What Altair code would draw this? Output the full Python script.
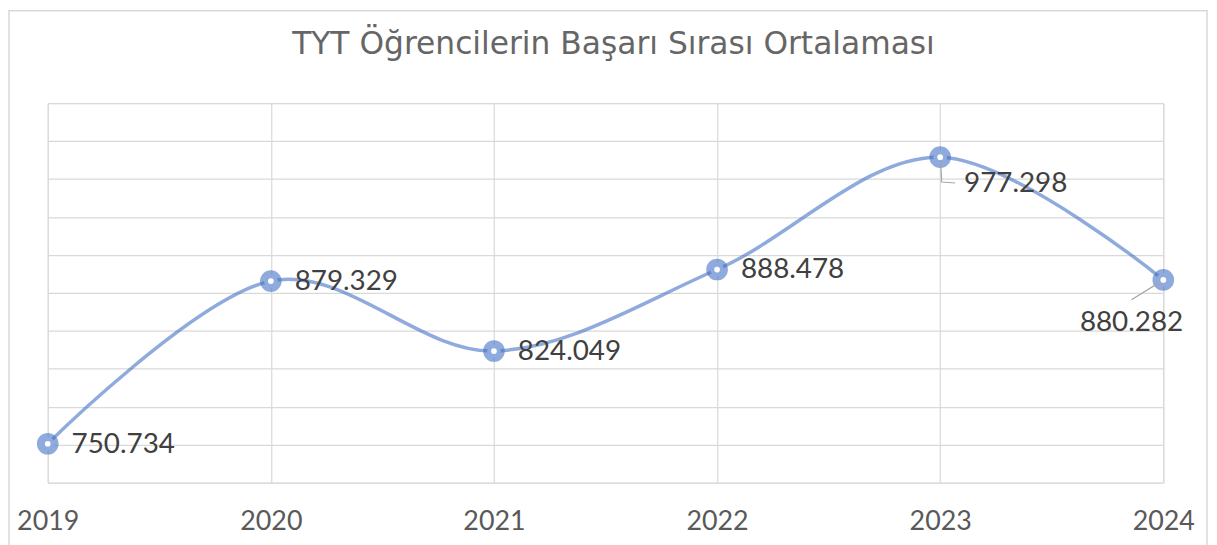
import altair as alt
import pandas as pd

years = [2019, 2020, 2021, 2022, 2023, 2024]
values = [750.734, 879.329, 824.049, 888.478, 977.298, 880.282]
labels = ["750.734", "879.329", "824.049", "888.478", "977.298", "880.282"]
y_ticks = [720, 750, 780, 810, 840, 870, 900, 930, 960, 990, 1020]
title_text = "TYT Öğrencilerin Başarı Sırası Ortalaması"

W, H = 1123, 382
PAD = {"left": 40, "top": 94, "right": 46, "bottom": 61}
FONT = "Lato"

df = pd.DataFrame({"year": years, "value": values, "label": labels})

# leader lines for the two labels placed away from their points (pixel offsets -> data units)
px_per_year = W / (years[-1] - years[0])
val_per_px = (y_ticks[-1] - y_ticks[0]) / H
leader_rows = []
def add_leader(yr, pts, gid):
    yi = years.index(yr)
    for k, (dx, dy) in enumerate(pts):
        leader_rows.append({"g": gid, "k": k, "yr": yr + dx / px_per_year,
                            "v": values[yi] - dy * val_per_px})
add_leader(2023, [(0.5, 4), (1.5, 25), (15, 26)], "a")
add_leader(2024, [(-3, 2), (-32, 20)], "b")
leader_df = pd.DataFrame(leader_rows)

xscale = alt.Scale(domain=[years[0], years[-1]], nice=False, zero=False)
yscale = alt.Scale(domain=[y_ticks[0], y_ticks[-1]], nice=False, zero=False)

x_enc = alt.X("year:Q", scale=xscale,
              axis=alt.Axis(title=None, values=years, tickCount=len(years), format="d",
                            labelAngle=0, grid=True,
                            gridColor="#D9D9D9", gridWidth=1.2, domain=False, ticks=False,
                            labelFont=FONT, labelFontSize=27, labelColor="#595959",
                            labelPadding=26, labelFlush=False, labelOverlap=False))
y_enc = alt.Y("value:Q", scale=yscale,
              axis=alt.Axis(title=None, values=y_ticks, tickCount=len(y_ticks),
                            labels=False, ticks=False,
                            domain=False, grid=True, gridColor="#D9D9D9", gridWidth=1.2))
x_plain = alt.X("year:Q", scale=xscale)
y_plain = alt.Y("value:Q", scale=yscale)

base = alt.Chart(df)

frame = alt.Chart(alt.Data(values=[{"f": 1}])).mark_rect(
    fill="white", fillOpacity=0, stroke="#D9D9D9", strokeWidth=1.5
).encode(x=alt.value(-39), x2=alt.value(1167), y=alt.value(-93), y2=alt.value(600))

line = base.mark_line(interpolate="cardinal", color="#4472C4", strokeWidth=3.5,
                      opacity=0.6).encode(x=x_enc, y=y_enc)

pts = base.mark_point(shape="circle", size=190, filled=False, fill="white",
                      fillOpacity=1, stroke="#4472C4", strokeOpacity=0.6,
                      strokeWidth=8).encode(x=x_plain, y=y_plain)

leaders = alt.Chart(leader_df).mark_line(color="#A6A6A6", strokeWidth=1.2).encode(
    x=alt.X("yr:Q", scale=xscale), y=alt.Y("v:Q", scale=yscale),
    detail="g:N", order="k:Q")

txt_style = dict(font=FONT, fontSize=28, color="#404040", baseline="middle")
right_labels = base.transform_filter(
    alt.FieldOneOfPredicate(field="year", oneOf=[2019, 2020, 2021, 2022])
).mark_text(align="left", dx=24, dy=1, **txt_style).encode(
    x=x_plain, y=y_plain, text="label:N")

lab_2023 = base.transform_filter(alt.datum.year == 2023).mark_text(
    align="left", dx=24, dy=27, **txt_style).encode(x=x_plain, y=y_plain, text="label:N")

lab_2024 = base.transform_filter(alt.datum.year == 2024).mark_text(
    align="center", dx=-32, dy=43, **txt_style).encode(x=x_plain, y=y_plain, text="label:N")

chart = alt.layer(frame, line, pts, leaders, right_labels, lab_2023, lab_2024).properties(
    width=W, height=H,
    autosize=alt.AutoSizeParams(type="none"),
    padding=PAD,
    title=alt.TitleParams(title_text, font="DejaVu Sans", fontSize=31.5, fontWeight="normal",
                          color="#666666", anchor="middle", frame="group", offset=-51, dx=8),
).configure_view(stroke=None).configure(background="white")

chart.save("out.html", embed_options={"renderer": "svg", "actions": False})
